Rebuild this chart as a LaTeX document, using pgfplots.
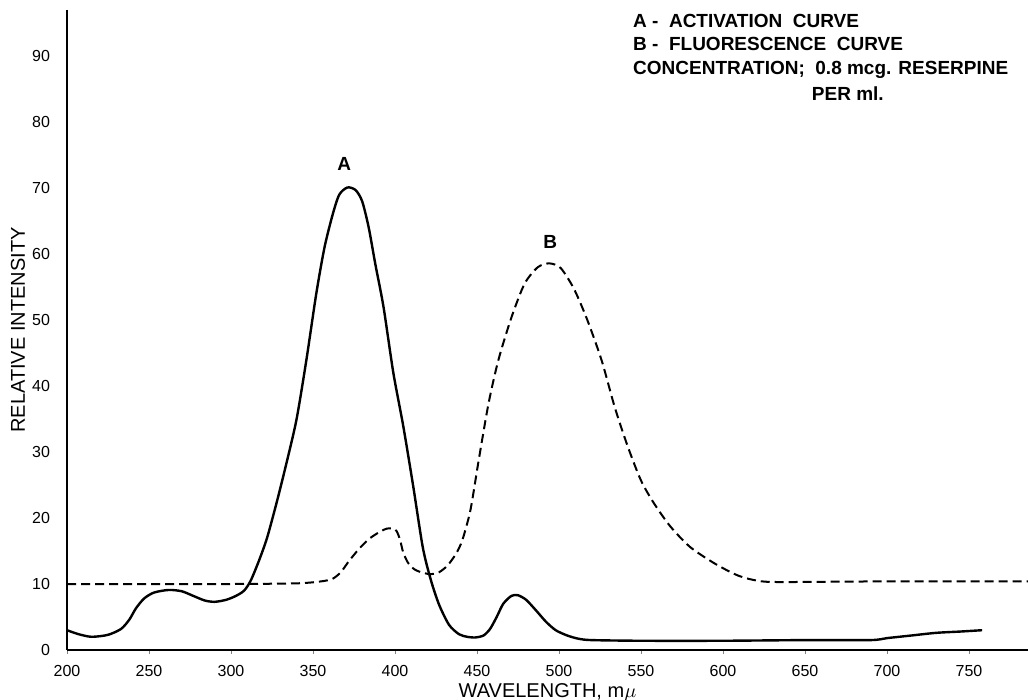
\documentclass[border=0pt]{standalone}
\usepackage{fontspec}
\setmainfont{Liberation Sans}
\usepackage{pgfplots}
\pgfplotsset{compat=1.18}
\begin{document}
\begin{tikzpicture}
\begin{axis}[
  scale only axis, width=480.5pt, height=320pt,
  xmin=200, xmax=786, ymin=0, ymax=97,
  axis x line*=bottom, axis y line*=left,
  axis line style={line width=0.8pt},
  xtick={200,250,...,750}, ytick={0,10,...,90},
  ticklabel style={font=\fontsize{8}{9}\selectfont},
  /pgf/number format/assume math mode=true,
  /pgf/number format/1000 sep={},
  x tick label style={yshift=-2pt},
  y tick label style={xshift=-3pt},
  major tick length=2pt, tick align=outside,
  ytick style={draw=none},
  xlabel={WAVELENGTH, m$\mu$}, ylabel={RELATIVE INTENSITY},
  label style={font=\fontsize{10}{12}\selectfont},
  x label style={at={([yshift=-21pt]axis description cs:0.5,0)}, anchor=center},
  y label style={at={([xshift=-24.5pt]axis description cs:0,0.5)}, anchor=center},
  clip=false,
]
% A - activation curve
\addplot[black, line width=1.2pt, smooth, tension=0.45] coordinates {
(200,3.0) (207,2.4) (215,2.0) (225,2.3) (233,3.2) (238,4.6) (242,6.3) (247,7.8)
(253,8.7) (262,9.1) (270,8.9) (277,8.2) (284,7.5) (290,7.3) (297,7.6) (303,8.2)
(308,9.0) (312,10.5) (317,13.5) (322,17) (328,22.5) (334,28.5) (340,35) (346,44)
(352,54) (357,61) (362,66) (366,69) (371,70.1) (376,69.7) (380,68) (384,64)
(388,58.5) (393,52) (399,42) (405,34) (411,25) (417,15.5) (422,10.5) (427,6.8)
(433,3.8) (439,2.4) (444,2.0) (449,1.9) (454,2.2) (458,3.2) (462,5.0) (466,7.0)
(471,8.2) (475,8.3) (480,7.6) (486,6.0) (492,4.3) (498,3.0) (505,2.2) (512,1.7)
(520,1.5) (550,1.4) (600,1.4) (650,1.5) (690,1.5) (700,1.8) (715,2.2) (730,2.6)
(745,2.8) (758,3.0)
};
% B - fluorescence curve
\addplot[black, line width=1pt, dash pattern=on 4.5pt off 2.5pt, smooth, tension=0.45] coordinates {
(200,10.0) (250,10.0) (300,10.0) (340,10.1) (355,10.4) (362,10.8) (367,11.8)
(372,13.5) (378,15.3) (384,16.8) (390,17.8) (395,18.4) (399,18.4) (401,18.0)
(403,16.8) (405,14.8) (408,13.2) (412,12.2) (417,11.7) (422,11.5) (427,11.8)
(432,12.8) (437,14.5) (441,16.6) (446,21.2) (451,28.7) (457,37.3) (463,43.9)
(471,50.4) (479,55.5) (487,58.0) (494,58.6) (501,57.9) (509,54.8) (517,50.2)
(526,43.9) (534,36.8) (542,30.8) (550,25.7) (558,22.2) (568,18.7) (580,15.6)
(595,13.1) (609,11.3) (621,10.5) (635,10.3) (700,10.4) (786,10.4)
};
\node[font=\fontsize{9.5}{11}\selectfont\bfseries] at (axis cs:369,73.7) {A};
\node[font=\fontsize{9.5}{11}\selectfont\bfseries] at (axis cs:494.6,61.8) {B};
\begin{scope}[every node/.style={font=\fontsize{9.5}{11}\selectfont\bfseries, anchor=west, inner sep=0pt}]
\node at (axis cs:545,95.4) {A -\ \ ACTIVATION\ \ CURVE};
\node at (axis cs:545,91.8) {B -\ \ FLUORESCENCE\ \ CURVE};
\node at (axis cs:545,87.9) {CONCENTRATION;\ \ 0.8 mcg. RESERPINE};
\node at (axis cs:654,84.3) {PER ml.};
\end{scope}
\end{axis}
\pgfresetboundingbox
\path[use as bounding box] (-33.5pt,-25pt) rectangle (480.5pt,325pt);
\end{tikzpicture}
\end{document}
